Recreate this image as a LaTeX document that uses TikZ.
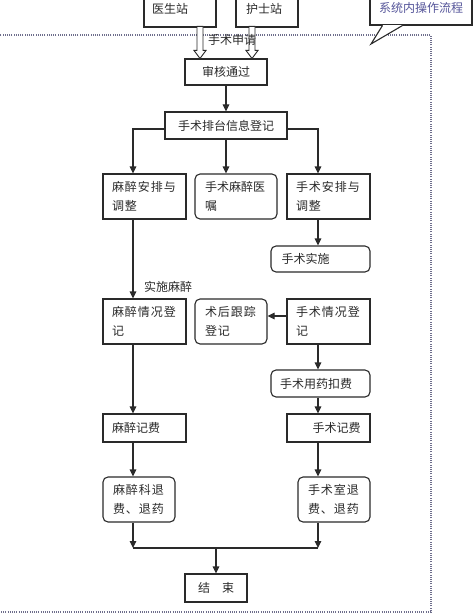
\documentclass[tikz,border=0pt]{standalone}
\usepackage{fontspec}
\newfontfamily\cjk{Noto Sans CJK SC}
\newfontfamily\cjkw{Noto Sans CJK SC}[LetterSpace=8]
\usetikzlibrary{arrows.meta,calc}
\definecolor{linec}{HTML}{2A2A2A}
\definecolor{dotc}{HTML}{6E6E8C}
\definecolor{callc}{HTML}{55559A}
\begin{document}
\begin{tikzpicture}[x=1pt,y=-1pt,
  every node/.style={font=\cjk\fontsize{12}{19}\selectfont, text=linec},
  bx/.style={draw=linec, line width=1.1pt, fill=white, inner ysep=0pt, align=left},
  rbx/.style={bx, rounded corners=5pt},
  wide/.style={font=\cjkw\fontsize{12}{19}\selectfont},
  arr/.style={draw=linec, line width=1.1pt, -{Triangle[length=7pt,width=6.5pt]}},
  ln/.style={draw=linec, line width=1.1pt},
  hol/.style={draw=linec, line width=0.9pt, fill=white},
  dots/.style={draw=dotc, line width=1.1pt, dash pattern=on 1pt off 1.2pt}]
\useasboundingbox (0,0) rectangle (474,615);
\clip (0,0) rectangle (474,615);

% system frame
\draw[dots] (-5,35) rectangle (431,612);

% top stations
\node[bx, minimum width=72, minimum height=37, text width=56, inner xsep=8] (doc) at (180,8.5) {医生站};
\node[bx, minimum width=62, minimum height=37, text width=42, inner xsep=10] (nur) at (267,8.5) {护士站};

% callout
\node[bx, minimum width=102, minimum height=35, align=center, text=callc] (call) at (421,7.5) {系统内操作流程};
\coordinate (tip) at (371,44);
\fill[white] ([xshift=13pt]call.south west) -- (tip) -- ([xshift=33pt]call.south west) -- cycle;
\draw[ln, line width=0.4pt, white] ([xshift=13.6pt]call.south west) -- ([xshift=32.4pt]call.south west);
\draw[ln] ([xshift=13pt]call.south west) -- (tip) -- ([xshift=33pt]call.south west);

% audit
\node[bx, minimum width=82, minimum height=26, align=center] (audit) at (226,72) {审核通过};

% hollow arrows
\draw[hol] ([xshift=-26pt]audit.north) -- ++(-6,-8) -- ++(3,0) -- ++(0,-24) -- ++(6,0) -- ++(0,24) -- ++(3,0) -- cycle;
\draw[hol] ([xshift=26pt]audit.north) -- ++(-6,-8) -- ++(3,0) -- ++(0,-24) -- ++(6,0) -- ++(0,24) -- ++(3,0) -- cycle;
\node[inner sep=0pt] (apply) at (232,40) {手术申请};

% schedule
\node[bx, minimum width=122, minimum height=27, align=center] (sched) at (226,125.5) {手术排台信息登记};

\coordinate (Lx) at (133,0);
\coordinate (Rx) at (318,0);

% row 2
\node[bx, wide, minimum width=83, minimum height=45, text width=65, inner xsep=9] (an1) at (144.5,196.5) {麻醉安排与\\调整};
\node[rbx, minimum width=82, minimum height=45, text width=62, inner xsep=10] (ord) at (236,196.5) {手术麻醉医\\嘱};
\node[bx, wide, minimum width=83, minimum height=45, text width=65, inner xsep=9] (op1) at (328.5,196.5) {手术安排与\\调整};
\node[rbx, minimum width=99, minimum height=26, text width=78, inner xsep=10.5] (opdo) at (320.5,259) {手术实施};

% row 3
\node[bx, wide, minimum width=83, minimum height=45, text width=65, inner xsep=9] (an2) at (144.5,321.5) {麻醉情况登\\记};
\node[rbx, wide, minimum width=72, minimum height=45, text width=52, inner xsep=10] (fol) at (231,321.5) {术后跟踪\\登记};
\node[bx, wide, minimum width=83, minimum height=45, text width=65, inner xsep=9] (op2) at (328.5,321.5) {手术情况登\\记};
\node[rbx, minimum width=99, minimum height=27, text width=81, inner xsep=9] (drug) at (320.5,383.5) {手术用药扣费};

% row 4
\node[bx, minimum width=83, minimum height=28, text width=65, inner xsep=9] (an3) at (144.5,428) {麻醉记费};
\node[bx, minimum width=83, minimum height=28, align=center] (op3) at (328.5,428) {\hspace{16pt}手术记费};

% row 5
\node[rbx, wide, minimum width=72, minimum height=45, text width=52, inner xsep=10] (an4) at (139,499.5) {麻醉科退\\费、退药};
\node[rbx, wide, minimum width=72, minimum height=45, text width=52, inner xsep=10] (op4) at (334,499.5) {手术室退\\费、退药};

% end
\node[bx, minimum width=62, minimum height=28, align=center] (end) at (216,588) {结　束};

% connectors
\draw[arr] (audit.south) -- (sched.north);
\draw[arr] ([yshift=-3.5pt]sched.west) -| (an1.north -| Lx);
\draw[arr] ([yshift=-3.5pt]sched.east) -| (op1.north -| Rx);
\draw[arr] (sched.south) -- (sched.south |- ord.north);
\draw[arr] (op1.south -| Rx) -- (opdo.north -| Rx);
\draw[arr] (an1.south -| Lx) -- (an2.north -| Lx);
\node[inner sep=0pt] (lbl) at (168,287) {实施麻醉};
\draw[arr] ([yshift=5.5pt]op2.west) -- ([yshift=5.5pt]op2.west -| fol.east);
\draw[arr] (op2.south -| Rx) -- (drug.north -| Rx);
\draw[arr] (an2.south -| Lx) -- (an3.north -| Lx);
\draw[arr] (drug.south -| Rx) -- (op3.north -| Rx);
\draw[arr] (an3.south -| Lx) -- (an4.north -| Lx);
\draw[arr] (op3.south -| Rx) -- (op4.north -| Rx);

\coordinate (jl) at (133,548);
\coordinate (jr) at (318,548);
\coordinate (jm) at (216,548);
\draw[arr] (an4.south -| Lx) -- (jl);
\draw[arr] (op4.south -| Rx) -- (jr);
\draw[ln] (jl) -- (jr);
\draw[arr] (jm) -- (end.north);
\end{tikzpicture}
\end{document}
